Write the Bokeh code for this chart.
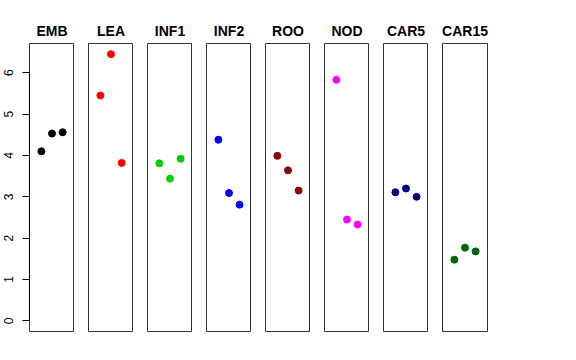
from bokeh.plotting import figure
from bokeh.layouts import row
from bokeh.models import FixedTicker, Range1d
from bokeh.embed import file_html
from bokeh.resources import INLINE

groups = ["EMB", "LEA", "INF1", "INF2", "ROO", "NOD", "CAR5", "CAR15"]
colors = ["#000000", "#FF0000", "#00CD00", "#0000FF", "#8B0000", "#FF00FF", "#000080", "#006400"]
reps = [1, 2, 3]
values = {
    "EMB":   [4.10, 4.53, 4.56],
    "LEA":   [5.45, 6.45, 3.82],
    "INF1":  [3.81, 3.44, 3.92],
    "INF2":  [4.38, 3.09, 2.81],
    "ROO":   [3.99, 3.64, 3.15],
    "NOD":   [5.83, 2.45, 2.33],
    "CAR5":  [3.11, 3.20, 3.00],
    "CAR15": [1.48, 1.77, 1.68],
}
y_ticks = [0, 1, 2, 3, 4, 5, 6]

FONT = "Liberation Sans"
figs = []
n = len(groups)
for i, (g, c) in enumerate(zip(groups, colors)):
    first = i == 0
    last = i == n - 1
    p = figure(frame_width=45, frame_height=288, output_backend="svg", toolbar_location=None,
               x_range=Range1d(-0.12, 4.12), y_range=Range1d(-0.258, 6.708), title=g,
               min_border_left=29 if first else 14, min_border_right=8 if last else 0,
               min_border_top=43, min_border_bottom=10)
    p.title.align = "center"
    p.title.text_font = FONT
    p.title.text_font_size = "14px"
    p.title.text_font_style = "bold"
    p.title.text_color = "#000000"
    p.title.standoff = 9
    p.xaxis.visible = False
    p.xgrid.visible = False
    p.ygrid.visible = False
    p.outline_line_color = "#333333"
    p.outline_line_width = 1
    p.outline_line_alpha = 1
    if first:
        ax = p.yaxis[0]
        ax.ticker = FixedTicker(ticks=y_ticks)
        ax.bounds = (0, 6)
        ax.minor_tick_line_color = None
        ax.major_tick_out = 7
        ax.major_tick_in = 0
        ax.major_label_standoff = 9
        ax.major_label_orientation = "vertical"
        ax.major_label_text_font = FONT
        ax.major_label_text_font_size = "12px"
        ax.major_label_text_color = "#000000"
        ax.axis_line_color = "#000000"
        ax.major_tick_line_color = "#000000"
    else:
        p.yaxis.visible = False
    p.scatter(reps, values[g], size=7, color=c, line_color=c)
    figs.append(p)

layout = row(*figs, spacing=0)
open("out.html", "w").write(file_html(layout, INLINE))
